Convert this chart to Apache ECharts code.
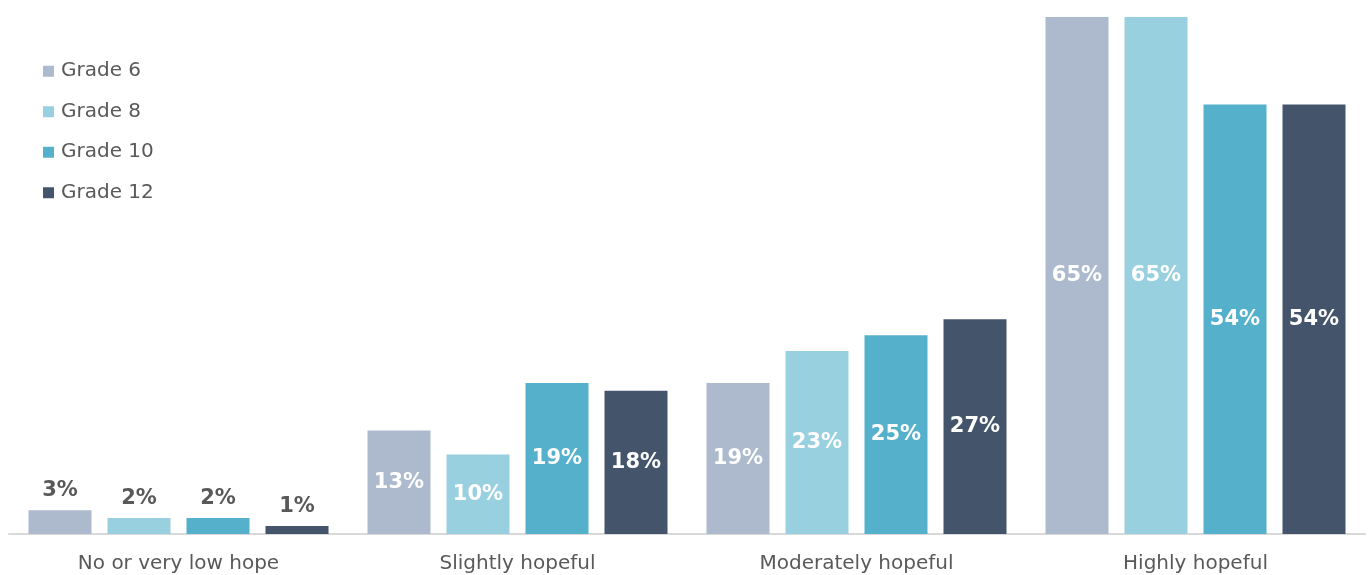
<!DOCTYPE html>
<html>
<head>
<meta charset="utf-8">
<script src="https://cdn.jsdelivr.net/npm/echarts@6/dist/echarts.min.js"></script>
<style>
  html, body { margin: 0; padding: 0; background: #ffffff; }
  #chart { width: 1370px; height: 575px; }
</style>
</head>
<body>
<div id="chart"></div>
<script>
// Hope level by grade (percent of students)
const categories = ['No or very low hope', 'Slightly hopeful', 'Moderately hopeful', 'Highly hopeful'];
const grades = ['Grade 6', 'Grade 8', 'Grade 10', 'Grade 12'];
const grade6 = [3, 13, 19, 65];
const grade8 = [2, 10, 23, 65];
const grade10 = [2, 19, 25, 54];
const grade12 = [1, 18, 27, 54];
const colors = ['#adb9cc', '#99d0df', '#55b1cb', '#43546b'];

const FONT = '"DejaVu Sans", sans-serif';
const seriesValues = [grade6, grade8, grade10, grade12];

// Small values get their label above the bar in grey; others sit inside in white
function buildData(values) {
  return values.map(function (v, i) {
    if (i === 0) {
      return { value: v, label: { position: 'top', color: '#595959', distance: 9 } };
    }
    return { value: v };
  });
}

const series = grades.map(function (name, k) {
  return {
    name: name,
    type: 'bar',
    barWidth: 63,
    barGap: '25.4%',
    itemStyle: { color: colors[k] },
    label: {
      show: true,
      position: 'inside',
      formatter: '{c}%',
      color: '#ffffff',
      fontFamily: FONT,
      fontWeight: 'bold',
      fontSize: 21
    },
    data: buildData(seriesValues[k])
  };
});

const chart = echarts.init(document.getElementById('chart'), null, { renderer: 'canvas' });
chart.setOption({
  animation: false,
  backgroundColor: '#ffffff',
  color: colors,
  grid: { left: 9, right: 5, top: 17, bottom: 41, containLabel: false },
  legend: {
    orient: 'vertical',
    left: 38,
    top: 56,
    itemWidth: 11,
    itemHeight: 11,
    itemGap: 20,
    icon: 'rect',
    textStyle: { color: '#595959', fontFamily: FONT, fontSize: 20, lineHeight: 20.5, padding: [0, 0, 0, 2] },
    data: grades
  },
  xAxis: {
    type: 'category',
    data: categories,
    axisLine: { lineStyle: { color: '#d9d9d9', width: 2 } },
    axisTick: { show: false },
    axisLabel: { color: '#595959', fontFamily: FONT, fontSize: 20, margin: 20 }
  },
  yAxis: {
    type: 'value',
    min: 0,
    max: 65,
    show: false,
    splitLine: { show: false }
  },
  series: series
});
</script>
</body>
</html>
